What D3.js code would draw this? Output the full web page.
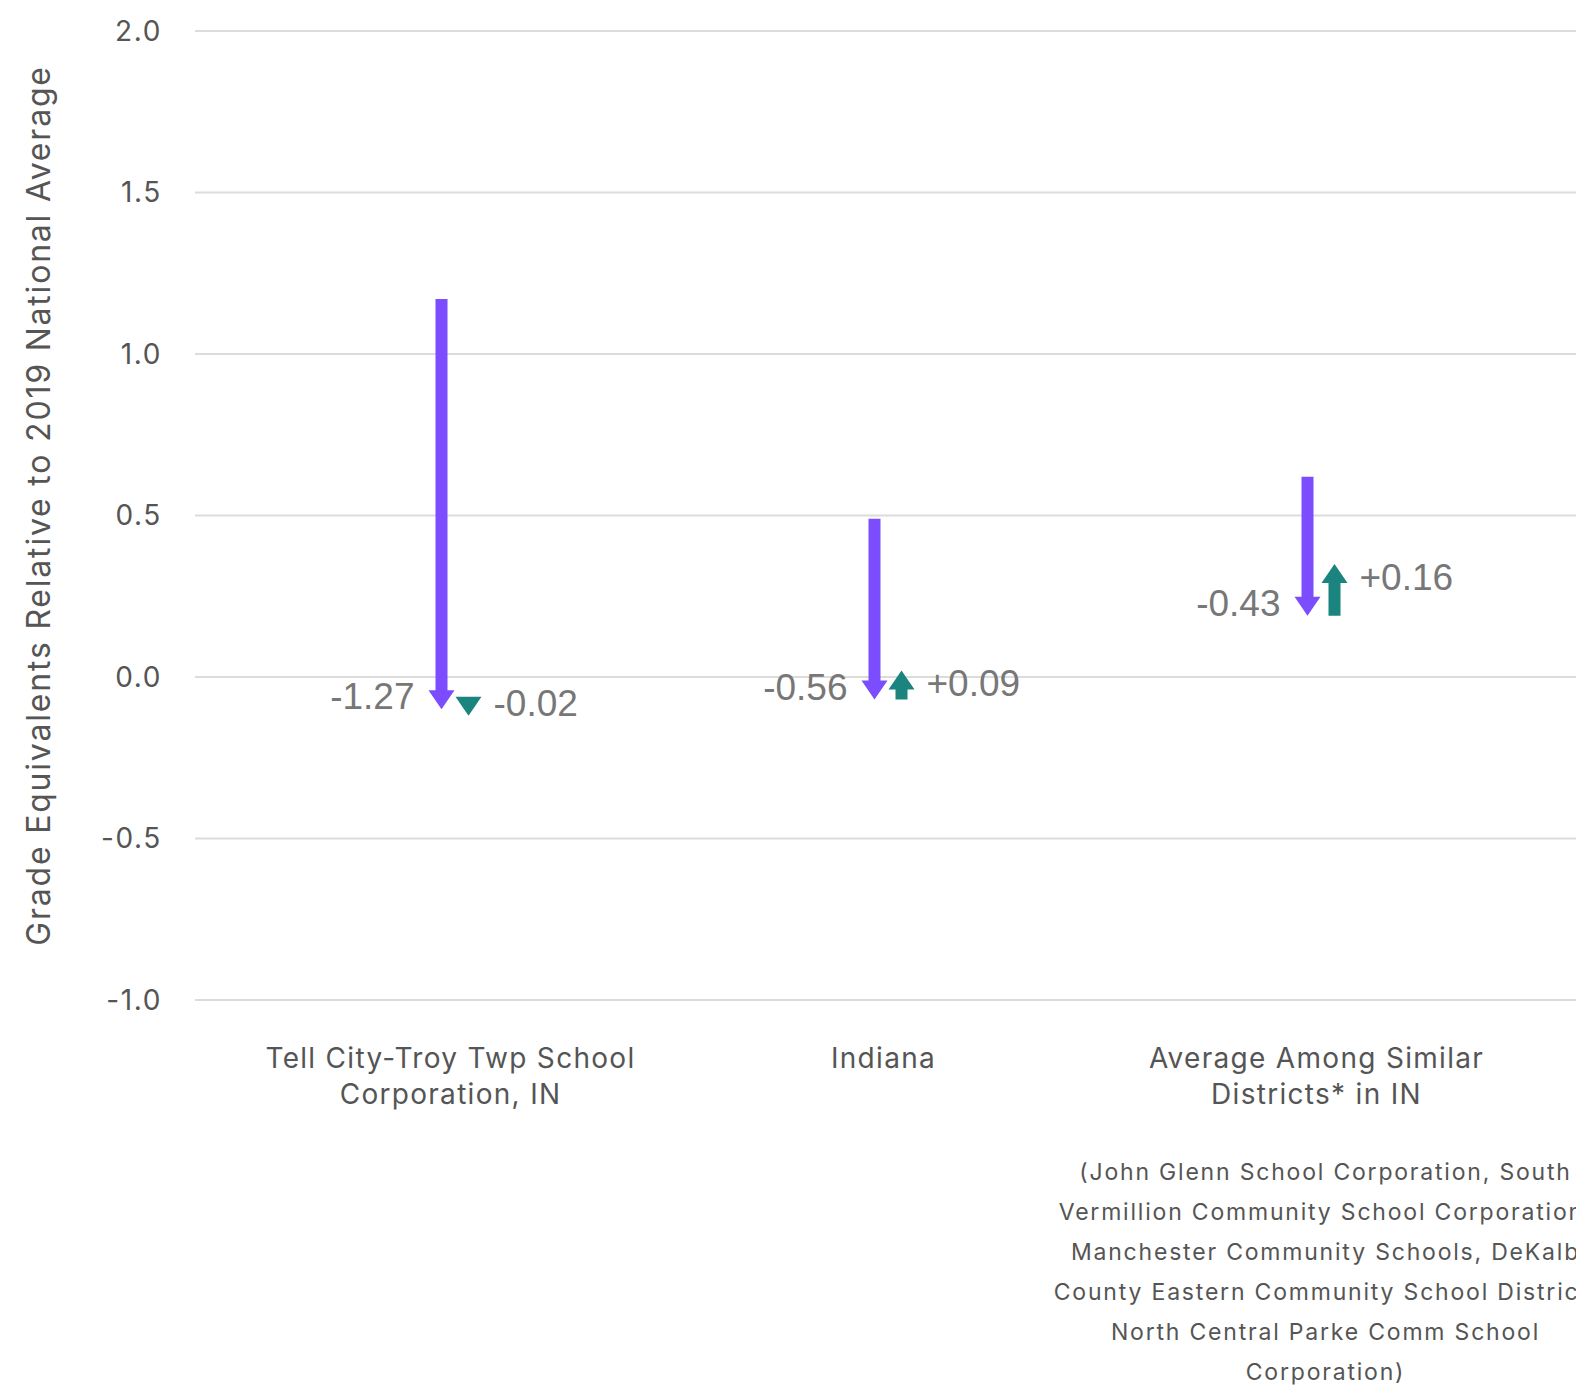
<!DOCTYPE html>
<html>
<head>
  <meta charset="utf-8">
  <title>Grade Equivalents Arrow Chart</title>
  <script src="https://d3js.org/d3.v7.min.js"></script>
  <style>
    body { margin: 0; background: #fff; }
    .grid line { stroke: #dcdcdc; stroke-width: 2px; }
    .tick-label { font-family: Inter, "Open Sans", sans-serif; font-size: 28px; fill: #555; letter-spacing: 1.6px; }
    .cat-label { font-family: Inter, "Open Sans", sans-serif; font-size: 28px; fill: #555; letter-spacing: 1.3px; }
    .note { font-family: Inter, "Open Sans", sans-serif; font-size: 23px; fill: #555; letter-spacing: 1.8px; }
    .value-label { font-family: "Liberation Sans", Arial, sans-serif; font-size: 37px; fill: #777; }
    .axis-title { font-family: Inter, "Open Sans", sans-serif; font-size: 32px; fill: #555; letter-spacing: 1.8px; }
  </style>
</head>
<body>
  <svg width="1576" height="1390"></svg>

  <script>
    // chart data
    const categories = ["Tell City-Troy Twp School Corporation, IN", "Indiana", "Average Among Similar Districts* in IN"];
    const categoryLines = [
      ["Tell City-Troy Twp School", "Corporation, IN"],
      ["Indiana"],
      ["Average Among Similar", "Districts* in IN"]
    ];
    const startValues = [1.17, 0.49, 0.62];
    const midValues = [-0.10, -0.07, 0.19];
    const endValues = [-0.12, 0.02, 0.35];
    const firstChangeLabels = ["-1.27", "-0.56", "-0.43"];
    const secondChangeLabels = ["-0.02", "+0.09", "+0.16"];
    const yTicks = [-1.0, -0.5, 0.0, 0.5, 1.0, 1.5, 2.0];
    const noteLines = [
      "(John Glenn School Corporation, South",
      "Vermillion Community School Corporation,",
      "Manchester Community Schools, DeKalb",
      "County Eastern Community School District,",
      "North Central Parke Comm School",
      "Corporation)"
    ];

    const width = 1576;
    const height = 1390;
    const purple = "#7b4dff";
    const teal = "#1b847e";

    const svg = d3.select("svg")
      .attr("width", width)
      .attr("height", height);

    const y = d3.scaleLinear().domain([-1, 2]).range([1000, 31]);
    const x = d3.scaleBand().domain(categories).range([234, 1533]);

    // gridlines
    svg.append("g").attr("class", "grid")
      .selectAll("line")
      .data(yTicks)
      .join("line")
      .attr("x1", 195)
      .attr("x2", width)
      .attr("y1", d => y(d))
      .attr("y2", d => y(d));

    // y tick labels (plain hyphen for negatives, as in the original)
    const fmt = d => d3.format(".1f")(d).replace("\u2212", "-");
    svg.selectAll(".tick-label")
      .data(yTicks)
      .join("text")
      .attr("class", "tick-label")
      .attr("x", 162)
      .attr("y", d => y(d))
      .attr("dy", "0.35em")
      .attr("text-anchor", "end")
      .text(fmt);

    // y axis title
    svg.append("text")
      .attr("class", "axis-title")
      .attr("transform", "translate(50," + (y(0.5) - 10) + ") rotate(-90)")
      .attr("text-anchor", "middle")
      .text("Grade Equivalents Relative to 2019 National Average");

    // arrow shape: shaft + head, head always ends at the target value
    const shaftW = 12, headW = 26, headL = 19;
    function arrowPath(cx, y0, y1) {
      const dir = y1 > y0 ? 1 : -1;
      const base = y1 - dir * headL;
      if (Math.abs(y1 - y0) <= headL) {
        return "M" + (cx - headW / 2) + "," + base + "L" + (cx + headW / 2) + "," + base +
          "L" + cx + "," + y1 + "Z";
      }
      return "M" + (cx - shaftW / 2) + "," + y0 +
        "L" + (cx + shaftW / 2) + "," + y0 +
        "L" + (cx + shaftW / 2) + "," + base +
        "L" + (cx + headW / 2) + "," + base +
        "L" + cx + "," + y1 +
        "L" + (cx - headW / 2) + "," + base +
        "L" + (cx - shaftW / 2) + "," + base + "Z";
    }

    const rows = categories.map((c, i) => ({
      cat: c,
      start: startValues[i],
      mid: midValues[i],
      end: endValues[i],
      l1: firstChangeLabels[i],
      l2: secondChangeLabels[i]
    }));

    const cx1 = d => x(d.cat) + x.bandwidth() / 2 - 9;
    const cx2 = d => x(d.cat) + x.bandwidth() / 2 + 18;

    // first change (purple)
    svg.selectAll(".arrow1")
      .data(rows)
      .join("path")
      .attr("class", "arrow1")
      .attr("fill", purple)
      .attr("d", d => arrowPath(cx1(d), y(d.start), y(d.mid)));

    // second change (teal)
    svg.selectAll(".arrow2")
      .data(rows)
      .join("path")
      .attr("class", "arrow2")
      .attr("fill", teal)
      .attr("d", d => arrowPath(cx2(d), y(d.mid), y(d.end)));

    // value labels
    svg.selectAll(".v1")
      .data(rows)
      .join("text")
      .attr("class", "value-label v1")
      .attr("x", d => cx1(d) - 27)
      .attr("y", d => y(d.mid) + (d.mid < d.start ? -13 : 15))
      .attr("dy", "0.35em")
      .attr("text-anchor", "end")
      .text(d => d.l1);

    svg.selectAll(".v2")
      .data(rows)
      .join("text")
      .attr("class", "value-label v2")
      .attr("x", d => cx2(d) + 25)
      .attr("y", d => y(d.end) + (d.end < d.mid ? -13 : 13))
      .attr("dy", "0.35em")
      .attr("text-anchor", "start")
      .text(d => d.l2);

    // category labels
    const catG = svg.selectAll(".cat")
      .data(categoryLines)
      .join("text")
      .attr("class", "cat-label")
      .attr("text-anchor", "middle");
    catG.selectAll("tspan")
      .data((lines, i) => lines.map(t => ({ t: t, i: i })))
      .join("tspan")
      .attr("x", d => x(categories[d.i]) + x.bandwidth() / 2)
      .attr("y", (d, j) => 1068 + j * 36)
      .text(d => d.t);

    // footnote under the similar-districts category
    const noteX = x(categories[2]) + x.bandwidth() / 2 + 9;
    svg.append("text")
      .attr("class", "note")
      .attr("text-anchor", "middle")
      .selectAll("tspan")
      .data(noteLines)
      .join("tspan")
      .attr("x", noteX)
      .attr("y", (d, i) => 1180 + i * 40)
      .text(d => d);
  </script>
</body>
</html>
